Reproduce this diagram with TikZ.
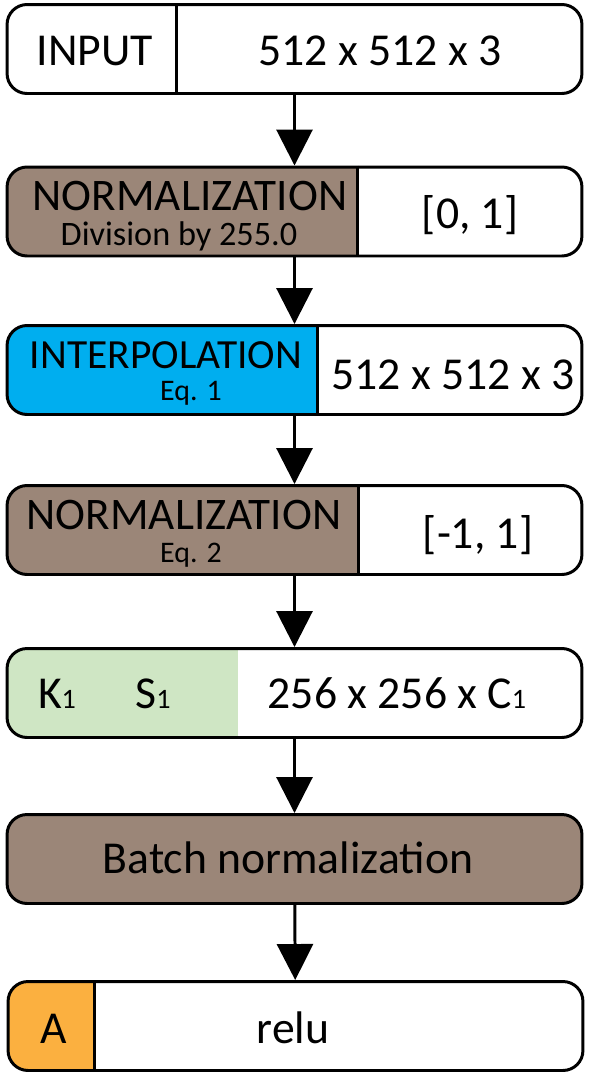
\documentclass[tikz,border=0pt]{standalone}
\usepackage{fontspec}
\setmainfont{Carlito}
\usetikzlibrary{arrows.meta}
\definecolor{normbrown}{RGB}{155,134,120}
\definecolor{interpblue}{RGB}{0,174,239}
\definecolor{convgreen}{RGB}{207,230,196}
\definecolor{actorange}{RGB}{251,176,64}
\newcommand*{\BigText}{\fontsize{26}{30}\selectfont}
\newcommand*{\SmallText}{\fontsize{17}{20}\selectfont}
\newcommand*{\Idx}[1]{{\fontsize{16}{16}\selectfont #1}}

\begin{document}
\begin{tikzpicture}[x=0.02cm, y=-0.02cm,
    layer/.style={draw, line width=1.7pt, rounded corners=0.4cm, minimum width=11.5cm, minimum height=1.78cm, inner sep=0pt},
    split/.style 2 args={path picture={\fill[#1, sharp corners] (path picture bounding box.north west) rectangle ([xshift=#2]path picture bounding box.south west);}},
    flow/.style={line width=1.7pt, -{Triangle[width=0.72cm, length=0.72cm]}},
    big/.style={anchor=base, inner sep=0pt, font=\BigText},
    small/.style={anchor=base, inner sep=0pt, font=\SmallText}]
    \useasboundingbox (0,0) rectangle (589,1076);

    \node[layer] (input) at (294.5,49) {};
    \node[layer, split={normbrown}{7.04cm}] (norma) at (294.5,211.5) {};
    \node[layer, split={interpblue}{6.24cm}] (interp) at (294.5,370) {};
    \node[layer, split={normbrown}{7.06cm}] (normb) at (294.5,530) {};
    \node[layer, split={convgreen}{4.62cm}] (conv) at (294.5,693) {};
    \node[layer, fill=normbrown] (bn) at (294.5,859) {};
    \node[layer, split={actorange}{1.76cm}] (act) at (295.5,1026) {};

    \foreach \n/\d in {input/3.42cm, norma/7.04cm, interp/6.24cm, normb/7.06cm, act/1.76cm}
        \draw[line width=1.7pt] ([xshift=\d]\n.north west) -- ([xshift=\d]\n.south west);

    \foreach \a/\b in {input/norma, norma/interp, interp/normb, normb/conv, conv/bn, bn/act}
        \draw[flow] (\a) -- (\b);

    \node[big] (inputtxt) at (95,65) {INPUT};
    \node[big] (inputsize) at (380,65) {512 x 512 x 3};
    \node[big, font=\fontsize{25.7}{28}\selectfont] (normatxt) at (190,210) {NORMALIZATION};
    \node[small, font=\fontsize{19.5}{22}\selectfont] (normasub) at (179,245) {Division by 255.0};
    \node[big] (normarange) at (470,228) {[0, 1]};
    \node[big, font=\fontsize{23.6}{26}\selectfont] (interptxt) at (166,368) {INTERPOLATION};
    \node[small] (interpsub) at (191,400) {Eq. 1};
    \node[big] (interpsize) at (453,389) {512 x 512 x 3};
    \node[big, font=\fontsize{25.7}{28}\selectfont] (normbtxt) at (184,529) {NORMALIZATION};
    \node[small] (normbsub) at (191,562) {Eq. 2};
    \node[big] (normbrange) at (478,548) {[-1, 1]};
    \node[big] (kernel) at (57,708) {K\Idx{1}};
    \node[big] (stride) at (153,708) {S\Idx{1}};
    \node[big] (convsize) at (397,708) {256 x 256 x C\Idx{1}};
    \node[big] (bntxt) at (288,873) {Batch normalization};
    \node[big] (acttxt) at (54,1043) {A};
    \node[big] (actname) at (293,1043) {relu};
\end{tikzpicture}
\end{document}
